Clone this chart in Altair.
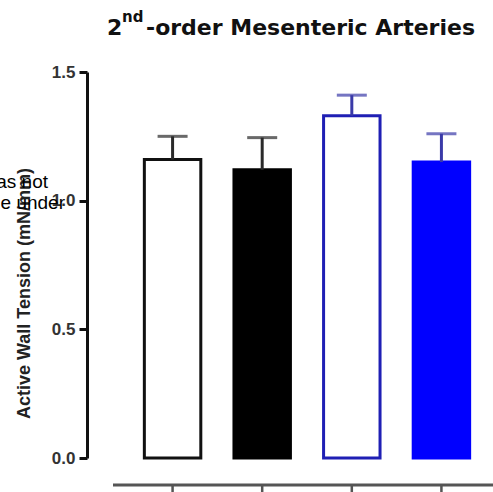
import altair as alt
import pandas as pd

# ---- data ----
groups = ["Group 1", "Group 2", "Group 3", "Group 4"]
means = [1.16, 1.12, 1.33, 1.15]
sems = [0.09, 0.125, 0.08, 0.11]
fills = ["#ffffff", "#000000", "#ffffff", "#0000ff"]
strokes = ["#111111", "#000000", "#1f1fb4", "#0000ff"]
err_colors = ["#2a2a2a", "#2a2a2a", "#3a3aa8", "#3a3aa8"]
y_ticks = [0.0, 0.5, 1.0, 1.5]

title_main = "2"
title_sup = "nd"
title_rest = "-order Mesenteric Arteries"
y_title = "Active Wall Tension (mN/mm)"
overlay_lines = ["was not", "the under"]

df = pd.DataFrame({
    "group": groups,
    "mean": means,
    "upper": [m + s for m, s in zip(means, sems)],
})

W, H = 406, 386

xscale = alt.Scale(domain=groups, range=[0, 440], paddingInner=0.37, paddingOuter=0.64)
yscale = alt.Scale(domain=[0, 1.5], nice=False, zero=True)

base = alt.Chart(df)

bars = base.mark_bar(strokeWidth=3).encode(
    x=alt.X("group:N", scale=xscale, axis=None, sort=groups),
    y=alt.Y("mean:Q", scale=yscale,
            axis=alt.Axis(values=y_ticks, format=".1f", title=y_title,
                          grid=False, domainColor="#111111", domainWidth=3,
                          tickColor="#111111", tickWidth=3, tickSize=8,
                          labelFont="Liberation Sans", labelFontWeight="bold",
                          labelFontSize=17, labelColor="#333333", labelPadding=4,
                          titleFont="Liberation Sans", titleFontWeight="bold",
                          titleFontSize=18, titleColor="#222222",
                          titleAngle=270, titleX=-63, titleY=221,
                          titleAlign="center", titleBaseline="middle")),
    fill=alt.Fill("group:N", scale=alt.Scale(domain=groups, range=fills), legend=None),
    stroke=alt.Stroke("group:N", scale=alt.Scale(domain=groups, range=strokes), legend=None),
)

err_color = alt.Color("group:N", scale=alt.Scale(domain=groups, range=err_colors), legend=None)

err_rule = base.mark_rule(strokeWidth=3).encode(
    x=alt.X("group:N", scale=xscale, sort=groups),
    y=alt.Y("mean:Q", scale=yscale),
    y2="upper:Q",
    color=err_color,
)

err_cap = base.mark_tick(thickness=3, size=30).encode(
    x=alt.X("group:N", scale=xscale, sort=groups),
    y=alt.Y("upper:Q", scale=yscale),
    color=err_color,
)

# bottom axis line (offset below the plot) with ticks under each bar
bottom_line = alt.Chart(pd.DataFrame({"k": [0]})).mark_rule(
    color="#555555", strokeWidth=3
).encode(x=alt.value(26), x2=alt.value(W), y=alt.value(413))

bottom_ticks = base.mark_rule(color="#555555", strokeWidth=2.5).encode(
    x=alt.X("group:N", scale=xscale, sort=groups),
    y=alt.value(413), y2=alt.value(420),
)

tdf = pd.DataFrame({"t": [0]})
t_main = alt.Chart(tdf).mark_text(
    text=title_main, font="DejaVu Sans", fontWeight="bold", fontSize=22,
    align="left", baseline="alphabetic", color="#111111"
).encode(x=alt.value(20), y=alt.value(-37))
t_sup = alt.Chart(tdf).mark_text(
    text=title_sup, font="DejaVu Sans", fontWeight="bold", fontSize=15,
    align="left", baseline="alphabetic", color="#111111"
).encode(x=alt.value(35), y=alt.value(-50))
t_rest = alt.Chart(tdf).mark_text(
    text=title_rest, font="DejaVu Sans", fontWeight="bold", fontSize=22,
    align="left", baseline="alphabetic", color="#111111"
).encode(x=alt.value(59), y=alt.value(-37))

ov1 = alt.Chart(tdf).mark_text(
    text=overlay_lines[0], font="Liberation Sans", fontSize=19,
    align="right", baseline="alphabetic", color="#000000"
).encode(x=alt.value(-39), y=alt.value(116))
ov2 = alt.Chart(tdf).mark_text(
    text=overlay_lines[1], font="Liberation Sans", fontSize=19,
    align="right", baseline="alphabetic", color="#000000"
).encode(x=alt.value(-22), y=alt.value(137))

chart = alt.layer(
    bars, err_rule, err_cap, bottom_line, bottom_ticks, t_main, t_sup, t_rest, ov1, ov2
).resolve_scale(color="independent").properties(
    width=W, height=H,
    autosize=alt.AutoSizeParams(type="none"),
    padding={"left": 87, "top": 72, "right": 0, "bottom": 34},
    background="white",
).configure_view(stroke=None)

chart.save("out.html", embed_options={"renderer": "svg", "actions": False})
